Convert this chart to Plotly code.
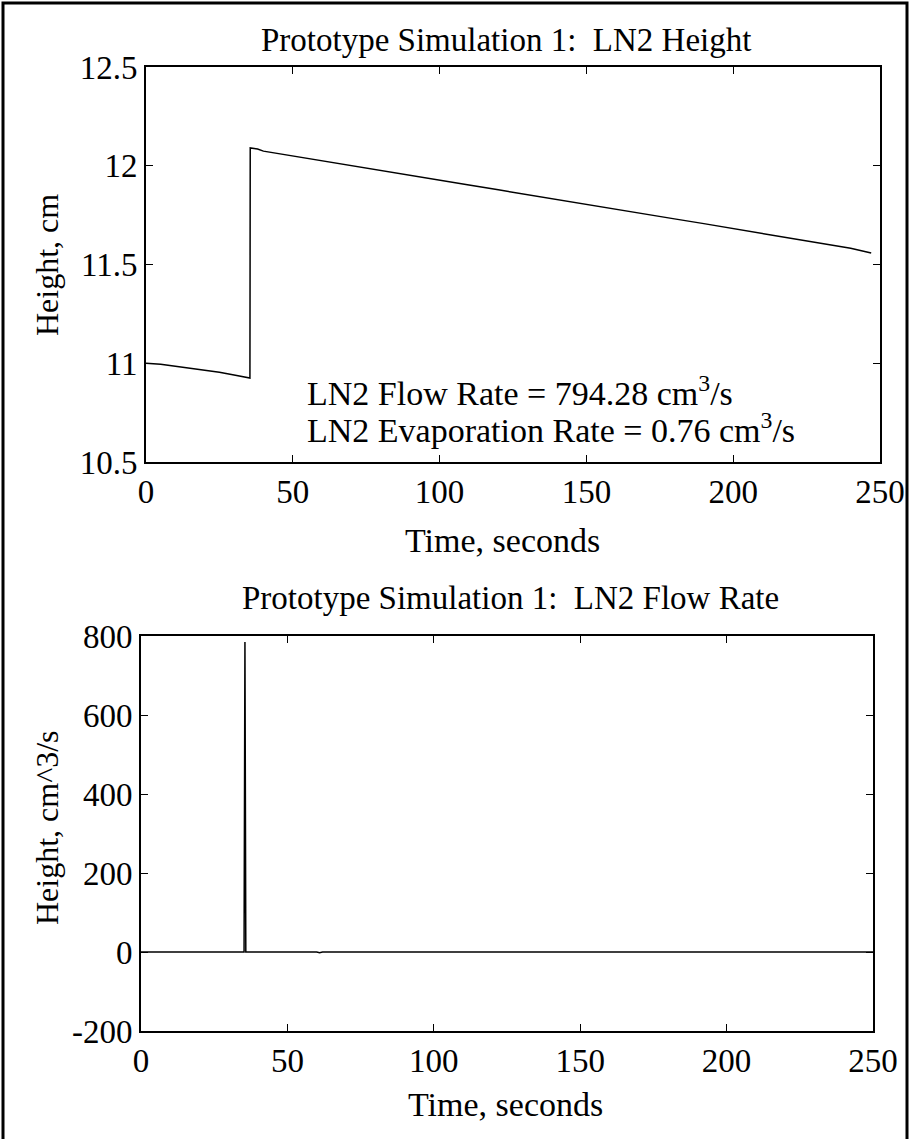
import plotly.graph_objects as go

# ---------------- data ----------------
time_height = [0, 5, 10, 15, 20, 25, 30, 35.4, 35.5, 38, 40, 50, 60, 70, 80, 90, 100,
               110, 120, 130, 140, 150, 160, 170, 180, 190, 200, 210, 220, 230, 240, 247]
height_cm = [11.0, 10.995, 10.985, 10.975, 10.965, 10.955, 10.94, 10.925, 12.09, 12.085,
             12.074, 12.049, 12.025, 12.0, 11.976, 11.951, 11.927, 11.902, 11.878, 11.853,
             11.829, 11.805, 11.78, 11.756, 11.731, 11.707, 11.682, 11.658, 11.633, 11.607,
             11.582, 11.558]

time_flow = [0, 35.2, 35.5, 35.8, 60, 61, 62, 75, 250]
flow_rate = [0, 0, 785, 0, 0, -2, 0, 0, 0]

x_ticks = [0, 50, 100, 150, 200, 250]
y1_ticks = [10.5, 11, 11.5, 12, 12.5]
y1_labels = ["10.5", "11", "11.5", "12", "12.5"]
y2_ticks = [-200, 0, 200, 400, 600, 800]
y2_labels = ["-200", "0", "200", "400", "600", "800"]

title_top = "Prototype Simulation 1:  LN2 Height"
title_bottom = "Prototype Simulation 1:  LN2 Flow Rate"
x_title = "Time, seconds"
y1_title = "Height, cm"
y2_title = "Height, cm^3/s"
note_1 = "LN2 Flow Rate = 794.28 cm<sup>3</sup>/s"
note_2 = "LN2 Evaporation Rate = 0.76 cm<sup>3</sup>/s"

# ---------------- layout helpers ----------------
W, H = 910, 1139
FONT = "Liberation Serif"


def fx(px):
    return px / W


def fy(py):
    return 1 - py / H


fig = go.Figure()
fig.add_trace(go.Scatter(x=time_height, y=height_cm, mode="lines",
                         line=dict(color="black", width=1.5), xaxis="x", yaxis="y"))
fig.add_trace(go.Scatter(x=time_flow, y=flow_rate, mode="lines",
                         line=dict(color="black", width=1.5), xaxis="x2", yaxis="y2"))

axis_common = dict(showline=True, linecolor="black", linewidth=1.6, mirror="ticks",
                   ticks="inside", ticklen=7, tickwidth=1.2, tickcolor="black",
                   showgrid=False, zeroline=False, automargin=False,
                   tickfont=dict(family=FONT, size=33, color="black"))

fig.update_layout(
    width=W, height=H, margin=dict(l=0, r=0, t=0, b=0),
    paper_bgcolor="white", plot_bgcolor="white", showlegend=False,
    xaxis=dict(domain=[fx(146), fx(880)], range=[0, 250], tickvals=x_ticks,
               anchor="y", **axis_common),
    yaxis=dict(domain=[fy(462), fy(67)], range=[10.5, 12.5], tickvals=y1_ticks,
               ticktext=y1_labels, anchor="x", **axis_common),
    xaxis2=dict(domain=[fx(141), fx(873)], range=[0, 250], tickvals=x_ticks,
                anchor="y2", **axis_common),
    yaxis2=dict(domain=[fy(1031), fy(636)], range=[-200, 800], tickvals=y2_ticks,
                ticktext=y2_labels, anchor="x2", **axis_common),
)


def font(size):
    return dict(family=FONT, size=size, color="black")


ann = [
    dict(text=title_top, x=fx(506), y=fy(40), font=font(33)),
    dict(text=title_bottom, x=fx(510), y=fy(598), font=font(33)),
    dict(text=x_title, x=fx(502), y=fy(540), font=font(34)),
    dict(text=x_title, x=fx(505), y=fy(1104), font=font(34)),
    dict(text=y1_title, x=fx(47), y=fy(265), textangle=-90, font=font(32)),
    dict(text=y2_title, x=fx(47), y=fy(828), textangle=-90, font=font(32)),
    dict(text=note_1, x=fx(305), y=fy(391), xanchor="left", font=font(34)),
    dict(text=note_2, x=fx(305), y=fy(428), xanchor="left", font=font(34)),
]
for a in ann:
    base = dict(xref="paper", yref="paper", showarrow=False,
                xanchor="center", yanchor="middle")
    base.update(a)
    fig.add_annotation(**base)

fig.add_shape(type="rect", xref="paper", yref="paper",
              x0=fx(3), x1=fx(907), y0=fy(1150), y1=fy(3),
              line=dict(color="black", width=3), fillcolor="rgba(0,0,0,0)")

fig.write_html("out.html")
